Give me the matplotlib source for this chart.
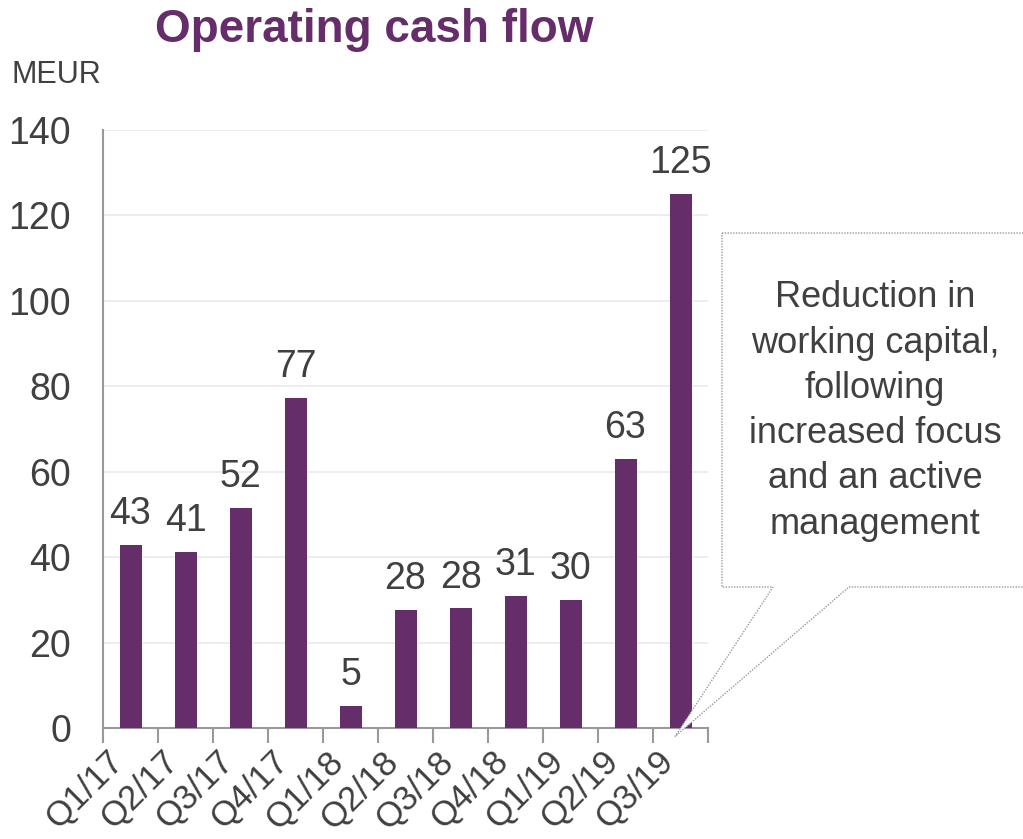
import matplotlib.pyplot as plt
import matplotlib.transforms as mtransforms
from matplotlib.patches import Polygon

plt.rcParams['font.family'] = ['Liberation Sans', 'DejaVu Sans']

quarters = ["Q1/17", "Q2/17", "Q3/17", "Q4/17", "Q1/18", "Q2/18",
            "Q3/18", "Q4/18", "Q1/19", "Q2/19", "Q3/19"]
cash_flow = [43, 41, 52, 77, 5, 28, 28, 31, 30, 63, 125]
bar_heights = [42.8, 41.2, 51.6, 77.2, 5.2, 27.6, 28.0, 31.0, 30.0, 63.0, 125.0]
note = "Reduction in\nworking capital,\nfollowing\nincreased focus\nand an active\nmanagement"

purple = "#662d6b"
text_col = "#404040"
W, H = 1023, 839

fig = plt.figure(figsize=(W / 100, H / 100), dpi=100)
ax = fig.add_axes([103 / W, 1 - 728 / H, 605 / W, 598 / H])

x = range(len(quarters))
ax.bar(x, bar_heights, width=0.4, color=purple, zorder=3)
for i, v in enumerate(cash_flow):
    ax.text(i, bar_heights[i] + 3, str(v), ha='center', va='bottom',
            fontsize=27, color=text_col, zorder=4)

ax.set_xlim(-0.5, len(quarters) - 0.5)
ax.set_ylim(0, 140)
ax.set_yticks(range(0, 141, 20))
ax.tick_params(axis='y', length=0, labelsize=27, labelcolor=text_col, pad=23)
ax.set_xticks([i - 0.5 for i in range(len(quarters) + 1)])
ax.set_xticklabels([])
ax.set_xticks(list(x), minor=True)
ax.set_xticklabels(quarters, minor=True, rotation=45, ha='right',
                   rotation_mode='anchor', fontsize=25, color=text_col)
ax.tick_params(axis='x', which='major', length=11, color='#999999', width=1.5, direction='out')
ax.tick_params(axis='x', which='minor', length=0, pad=12)
shift = mtransforms.ScaledTranslation(-24 / 100, 0, fig.dpi_scale_trans)
for lab in ax.get_xticklabels(minor=True):
    lab.set_transform(lab.get_transform() + shift)
ax.grid(axis='y', color='#eaeaea', linewidth=1.2, zorder=0)
for s in ['top', 'right']:
    ax.spines[s].set_visible(False)
for s in ['left', 'bottom']:
    ax.spines[s].set_color('#999999')
    ax.spines[s].set_linewidth(1.5)

fig.text(374 / W, 1 - 30 / H, "Operating cash flow", ha='center', va='center',
         fontsize=33, fontweight='bold', color=purple)
fig.text(12 / W, 1 - 75 / H, "MEUR", ha='left', va='center', fontsize=22, color=text_col)

# callout box with pointer to the last bar
tip = ax.transData.transform((len(quarters) - 1.1, -2))
tx, ty = tip[0] / W, tip[1] / H
box_pts = [(722, 233), (1030, 233), (1030, 587), (849, 587), None, (773, 587), (722, 587)]
pts = []
for p in box_pts:
    if p is None:
        pts.append((tx, ty))
    else:
        pts.append((p[0] / W, 1 - p[1] / H))
fig.patches.append(Polygon(pts, closed=True, transform=fig.transFigure, facecolor='white',
                           edgecolor='#999999', linestyle=(0, (1, 1)), linewidth=1, zorder=1))
fig.text(875 / W, 1 - 411 / H, note, ha='center', va='center', fontsize=26,
         color=text_col, linespacing=1.38)

fig.savefig("out.png", dpi=100)
